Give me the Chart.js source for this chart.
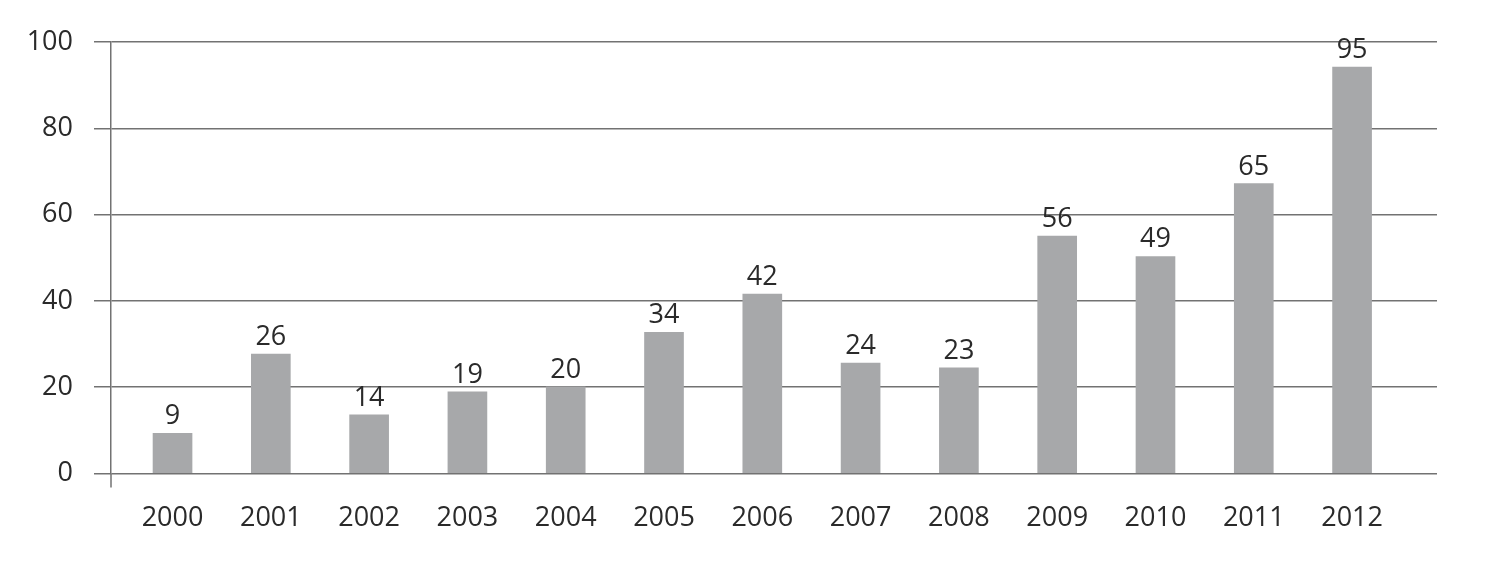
<!DOCTYPE html>
<html>
<head>
<meta charset="utf-8">
<script src="https://cdn.jsdelivr.net/npm/chart.js@4/dist/chart.umd.min.js"></script>
<style>
  html, body { margin: 0; padding: 0; background: #fff; }
  #wrap { width: 1485px; height: 573px; }
</style>
</head>
<body>
<div id="wrap"><canvas id="c"></canvas></div>
<script>
const years = ['2000', '2001', '2002', '2003', '2004', '2005', '2006', '2007', '2008', '2009', '2010', '2011', '2012'];
// bar heights as drawn in the picture
const barValues = [9.3, 27.7, 13.6, 18.9, 20.1, 32.7, 41.6, 25.6, 24.5, 55.0, 50.3, 67.2, 94.2];
// numbers printed above the bars
const printed = [9, 26, 14, 19, 20, 34, 42, 24, 23, 56, 49, 65, 95];
const yTicks = [0, 20, 40, 60, 80, 100];

const BAR = '#a7a8aa', LINE = '#727272', TXT = '#2a2a2a';
const FONT = '"Open Sans", "Noto Sans", sans-serif';
const X_MIN = -0.626, X_MAX = 12.864;

const valueLabels = {
    id: 'valueLabels',
    afterDatasetsDraw(chart) {
        const ctx = chart.ctx;
        const meta = chart.getDatasetMeta(0);
        ctx.save();
        ctx.font = '27px ' + FONT;
        ctx.fillStyle = TXT;
        ctx.textAlign = 'center';
        ctx.textBaseline = 'alphabetic';
        meta.data.forEach((bar, i) => ctx.fillText(String(printed[i]), bar.x, bar.y - 9));
        ctx.restore();
    }
};

// y axis line runs a little below the zero line
const axisStub = {
    id: 'axisStub',
    afterDraw(chart) {
        const { ctx, chartArea: a } = chart;
        ctx.save();
        ctx.strokeStyle = LINE;
        ctx.lineWidth = 1.5;
        ctx.beginPath();
        ctx.moveTo(a.left, a.bottom);
        ctx.lineTo(a.left, a.bottom + 14);
        ctx.stroke();
        ctx.restore();
    }
};

new Chart(document.getElementById('c'), {
    type: 'bar',
    data: {
        datasets: [{
            data: years.map((_, i) => ({ x: i, y: barValues[i] })),
            backgroundColor: BAR,
            borderWidth: 0,
            barThickness: 39
        }]
    },
    options: {
        responsive: true,
        maintainAspectRatio: false,
        animation: false,
        layout: { padding: { top: 42, right: 48, left: 0, bottom: 0 } },
        plugins: { legend: { display: false }, tooltip: { enabled: false } },
        scales: {
            x: {
                type: 'linear',
                min: X_MIN, max: X_MAX,
                bounds: 'data',
                offset: false,
                afterBuildTicks: s => { s.ticks = years.map((_, i) => ({ value: i })); },
                afterFit: s => { s.height = 99.5; },
                grid: { display: true, drawOnChartArea: false, color: 'rgba(0,0,0,0)', tickLength: 14 },
                border: { display: false },
                ticks: {
                    autoSkip: false,
                    maxRotation: 0,
                    padding: 15,
                    color: TXT,
                    font: { family: FONT, size: 27 },
                    callback: v => years[v]
                }
            },
            y: {
                min: 0, max: 100,
                afterBuildTicks: s => { s.ticks = yTicks.map(v => ({ value: v })); },
                afterFit: s => { s.width = 111; },
                grid: { color: LINE, lineWidth: 1.5, tickLength: 17 },
                border: { display: true, color: LINE, width: 1.5 },
                ticks: {
                    padding: 21,
                    color: TXT,
                    font: { family: FONT, size: 27 }
                }
            }
        }
    },
    plugins: [valueLabels, axisStub]
});
</script>
</body>
</html>
